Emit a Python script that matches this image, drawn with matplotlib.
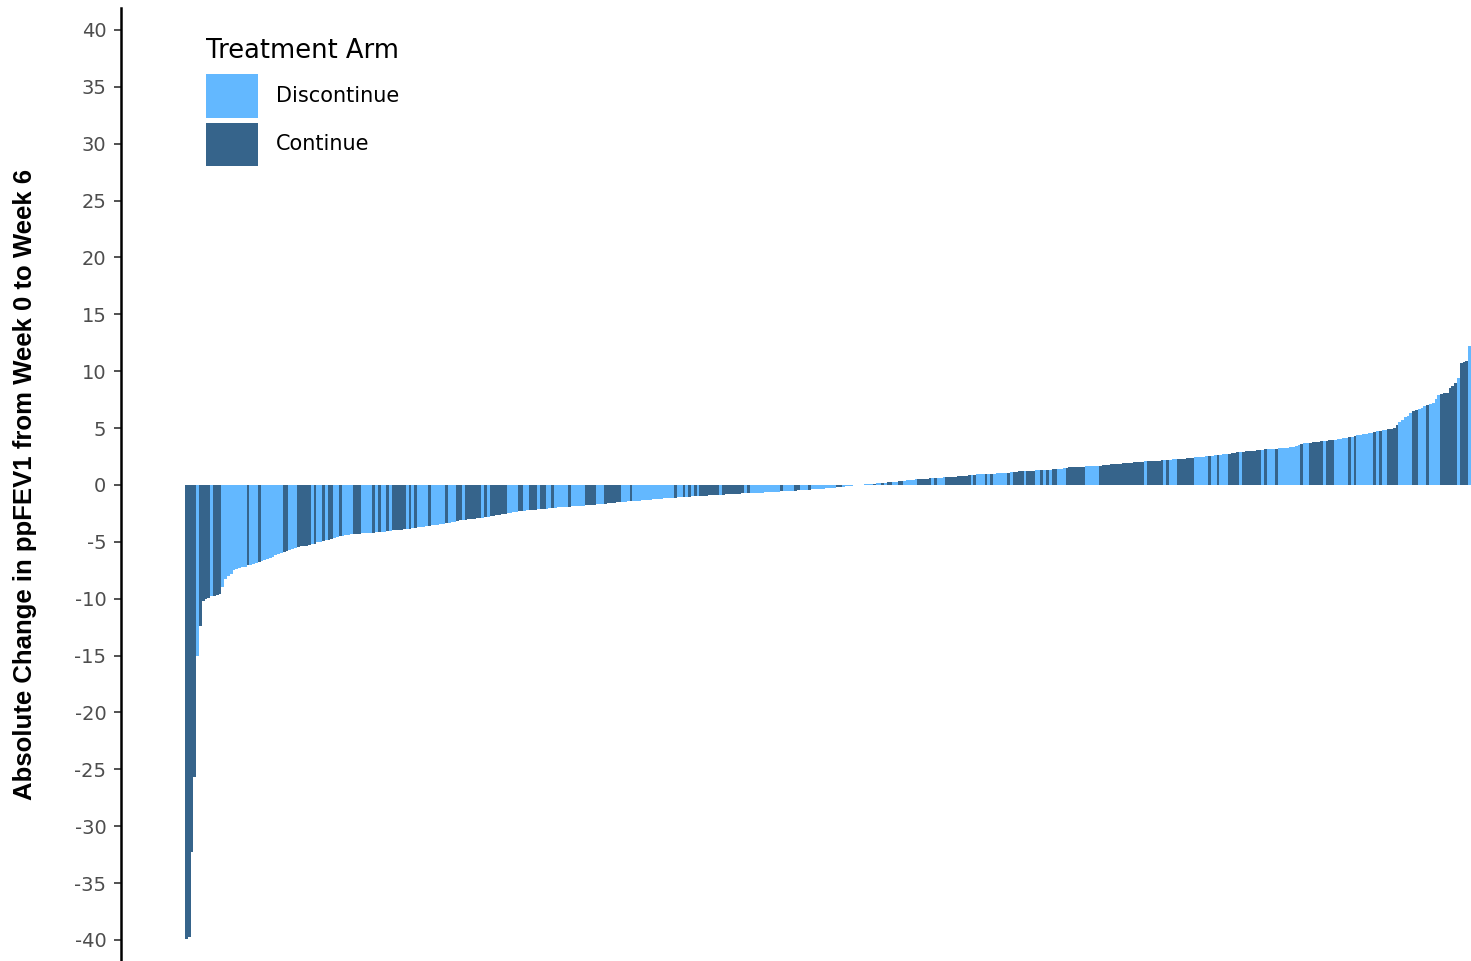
import numpy as np
import matplotlib
matplotlib.use("Agg")
import matplotlib.pyplot as plt
from matplotlib.patches import Patch

# 每位受试者 ppFEV1 变化值（已按从小到大排序）
change = [
    -39.9, -39.7, -32.3, -25.7, -15.0, -12.4, -10.2, -10.0, -9.9, -9.8, -9.8, -9.7, -9.6, -9.0, -8.3, -8.0, -7.8, -7.5, -7.4, -7.3,
    -7.25, -7.2, -7.0, -7.0, -6.95, -6.9, -6.8, -6.7, -6.6, -6.5, -6.4, -6.3, -6.2, -6.1, -6.0, -5.9, -5.85, -5.7, -5.6, -5.5,
    -5.45, -5.4, -5.38, -5.35, -5.3, -5.2, -5.15, -5.05, -5.0, -4.9, -4.85, -4.8, -4.75, -4.65, -4.6, -4.5, -4.45, -4.4, -4.38, -4.35,
    -4.32, -4.3, -4.28, -4.26, -4.24, -4.22, -4.21, -4.2, -4.17, -4.15, -4.12, -4.1, -4.08, -4.05, -4.0, -3.98, -3.95, -3.92, -3.9, -3.87,
    -3.84, -3.8, -3.77, -3.74, -3.7, -3.67, -3.64, -3.6, -3.56, -3.52, -3.48, -3.44, -3.4, -3.36, -3.32, -3.28, -3.24, -3.2, -3.12, -3.08,
    -3.05, -3.02, -3.0, -2.97, -2.94, -2.9, -2.87, -2.84, -2.8, -2.75, -2.7, -2.66, -2.62, -2.58, -2.54, -2.5, -2.46, -2.42, -2.38, -2.32,
    -2.3, -2.27, -2.24, -2.21, -2.18, -2.16, -2.14, -2.12, -2.1, -2.07, -2.04, -2.01, -1.99, -1.97, -1.95, -1.94, -1.92, -1.9, -1.89, -1.87,
    -1.85, -1.84, -1.82, -1.8, -1.78, -1.75, -1.72, -1.7, -1.68, -1.66, -1.64, -1.61, -1.58, -1.56, -1.54, -1.51, -1.49, -1.47, -1.45, -1.43,
    -1.41, -1.39, -1.37, -1.35, -1.33, -1.3, -1.28, -1.26, -1.24, -1.22, -1.2, -1.18, -1.17, -1.15, -1.13, -1.11, -1.09, -1.07, -1.05, -1.03,
    -1.02, -1.0, -0.99, -0.97, -0.96, -0.95, -0.93, -0.92, -0.9, -0.89, -0.87, -0.86, -0.84, -0.82, -0.8, -0.79, -0.78, -0.77, -0.76, -0.75,
    -0.74, -0.73, -0.72, -0.71, -0.7, -0.7, -0.68, -0.66, -0.65, -0.63, -0.62, -0.6, -0.59, -0.57, -0.56, -0.54, -0.52, -0.5, -0.49, -0.47,
    -0.46, -0.44, -0.42, -0.41, -0.39, -0.38, -0.36, -0.34, -0.32, -0.3, -0.28, -0.26, -0.23, -0.2, -0.18, -0.15, -0.12, -0.09, -0.07, -0.04,
    -0.02, 0.0, 0.03, 0.05, 0.08, 0.1, 0.12, 0.14, 0.16, 0.18, 0.2, 0.22, 0.24, 0.27, 0.3, 0.33, 0.37, 0.39, 0.42, 0.44,
    0.46, 0.48, 0.5, 0.52, 0.54, 0.55, 0.57, 0.59, 0.6, 0.62, 0.64, 0.66, 0.68, 0.7, 0.72, 0.74, 0.76, 0.78, 0.8, 0.83,
    0.86, 0.88, 0.9, 0.92, 0.93, 0.95, 0.96, 0.97, 0.99, 1.0, 1.01, 1.02, 1.04, 1.06, 1.09, 1.12, 1.15, 1.18, 1.2, 1.21,
    1.22, 1.24, 1.25, 1.27, 1.28, 1.29, 1.3, 1.31, 1.33, 1.35, 1.37, 1.39, 1.41, 1.43, 1.46, 1.52, 1.55, 1.58, 1.6, 1.6,
    1.61, 1.62, 1.64, 1.65, 1.66, 1.67, 1.68, 1.7, 1.72, 1.75, 1.77, 1.8, 1.82, 1.85, 1.87, 1.9, 1.92, 1.95, 1.97, 2.0,
    2.02, 2.04, 2.06, 2.08, 2.1, 2.11, 2.12, 2.13, 2.14, 2.15, 2.17, 2.2, 2.22, 2.24, 2.26, 2.28, 2.3, 2.32, 2.35, 2.38,
    2.4, 2.42, 2.45, 2.48, 2.5, 2.53, 2.56, 2.58, 2.61, 2.64, 2.67, 2.7, 2.73, 2.76, 2.8, 2.83, 2.86, 2.9, 2.92, 2.95,
    2.98, 3.0, 3.02, 3.04, 3.07, 3.1, 3.12, 3.14, 3.16, 3.18, 3.2, 3.22, 3.24, 3.26, 3.28, 3.3, 3.35, 3.45, 3.55, 3.6,
    3.65, 3.7, 3.73, 3.75, 3.78, 3.81, 3.84, 3.87, 3.9, 3.92, 3.95, 3.98, 4.02, 4.06, 4.1, 4.15, 4.2, 4.25, 4.3, 4.35,
    4.4, 4.45, 4.5, 4.55, 4.6, 4.65, 4.7, 4.75, 4.8, 4.85, 4.9, 4.95, 5.05, 5.25, 5.5, 5.75, 5.95, 6.1, 6.3, 6.5,
    6.6, 6.7, 6.8, 6.9, 7.0, 7.1, 7.2, 7.6, 7.9, 8.0, 8.05, 8.1, 8.5, 8.7, 9.0, 9.4, 10.7, 10.8, 10.9, 12.2,
]

# 治疗组: C = Continue, D = Discontinue（与 change 一一对应）
arm_code = (
    "CCCCDCCCCDCCCDDDDDDD"
    "DDCDDDCDDDDDDDDCCDDD"
    "CCCCCDCDDCDCCDDCDDDD"
    "CCCDDDDCDCDDCDCCCCCD"
    "CDCDDDDCDDDDDCDDDCCD"
    "CCCCCCDCDCCCCCCDDDDC"
    "CDDCCCDCCDDCDDDDDCDD"
    "DDDCCCCDDDCCCCCCDDDC"
    "DDDDDDDDDDDDDDDCDDCD"
    "CDCDCCCCCCCDCCCCCCCC"
    "DCDDDDDDDDDDDCDDDDCC"
    "DDDCDDDDDDDDDCCDDDDC"
    "CDDDDDCDDCDCCDDCCDDD"
    "DDCCCCCDCDDDCCCCCCCC"
    "CDCDDDCDCDDDDDCDCCCC"
    "DCCCDDCDCDCCDDDCCCCC"
    "CCDDDDDCCCCCCCCCCCCC"
    "CCCDCCCCCCDCDDDCCCCC"
    "CDDDDDCDDCDDDCCCCDCC"
    "CCCCCDCDDDCDDDDDDDDC"
    "DDCCCCCDCCCDDDDDCDCD"
    "DDDDDCDCDDCCCCDDDDDC"
    "CDDDCDDDDCCCCCCDCCCD"
)

arm_labels = {"D": "Discontinue", "C": "Continue"}
arm_colors = {"D": "#63B8FF", "C": "#36648B"}
y_ticks = list(range(-40, 41, 5))

plt.rcParams["font.family"] = ["DejaVu Sans"]
plt.rcParams["axes.unicode_minus"] = False

W, H = 1471, 961
fig = plt.figure(figsize=(W / 100, H / 100), dpi=100)
ax = fig.add_axes([121 / W, 0, 1 - 121 / W, 1 - 8 / H])

pos = np.arange(1, len(change) + 1)
colors = [arm_colors[c] for c in arm_code]
ax.bar(pos, change, width=1.0, color=colors, linewidth=0, antialiased=False)

ax.set_xlim(-22.4, len(change) + 0.5)
ax.set_ylim(-41.85, 41.93)
ax.set_yticks(y_ticks)
ax.set_xticks([])

for s in ["top", "right", "bottom"]:
    ax.spines[s].set_visible(False)
ax.spines["left"].set_linewidth(1.8)
ax.spines["left"].set_color("black")
ax.tick_params(axis="y", length=5, width=1.2, color="#333333",
               labelcolor="#4D4D4D", labelsize=14, pad=5.5)

fig.text(25 / W, 1 - 484 / H, "Absolute Change in ppFEV1 from Week 0 to Week 6",
         rotation=90, fontsize=18.5, fontweight="bold", ha="center", va="center",
         family=["Liberation Sans", "DejaVu Sans"])

handles = [Patch(facecolor=arm_colors[k], edgecolor="none", label=arm_labels[k]) for k in ["D", "C"]]
leg = ax.legend(handles=handles, title="Treatment Arm", loc="upper left",
                bbox_to_anchor=(206 / W, 1 - 38 / H), bbox_transform=fig.transFigure,
                frameon=False, fontsize=15, title_fontsize=18.5, alignment="left",
                handlelength=2.5, handleheight=2.81, handletextpad=0.87,
                labelspacing=0.24, borderpad=0, borderaxespad=0)
# 标题与图例色块之间留出更大间距
leg._legend_box.sep = 7.5

fig.savefig("out.png", dpi=100)
